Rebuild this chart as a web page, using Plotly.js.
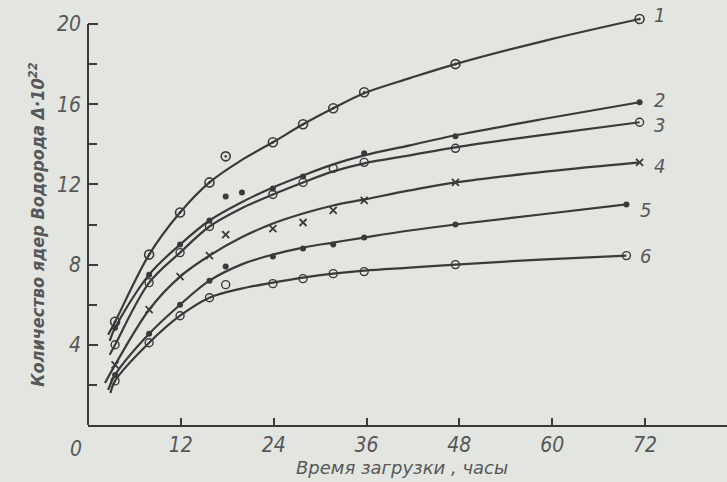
<!DOCTYPE html>
<html>
<head>
<meta charset="utf-8">
<script src="https://cdn.plot.ly/plotly-3.0.1.min.js"></script>
<style>html,body{margin:0;padding:0;background:#e3e5e1;}#chart{width:727px;height:482px;}</style>
</head>
<body>
<div id="chart"></div>
<script>
// ---- Data ----
const curveNames = ['1', '2', '3', '4', '5', '6'];

// measurement times, hours
const hours   = [3.5, 7.9, 11.9, 15.7, 17.8, 23.9, 27.8, 31.7, 35.7, 47.5, 71.3];
const hours56 = [3.5, 7.9, 11.9, 15.7, 17.8, 23.9, 27.8, 31.7, 35.7, 47.5, 69.6];

// measured points (hydrogen nuclei, x10^22)
const pts1 = [5.15, 8.5, 10.6, 12.1, 13.4, 14.1, 15.0, 15.8, 16.6, 18.0, 20.25];
const pts2 = [4.85, 7.5, 9.0, 10.2, 11.4, 11.8, 12.4, null, 13.55, 14.4, 16.1];
const pts3 = [4.0, 7.1, 8.6, 9.9, null, 11.5, 12.1, 12.8, 13.1, 13.8, 15.1];
const pts4 = [3.0, 5.75, 7.4, 8.45, 9.5, 9.8, 10.1, 10.7, 11.2, 12.1, 13.1];
const pts5 = [2.5, 4.55, 6.0, 7.2, 7.9, 8.4, 8.8, 9.0, 9.35, 10.0, 11.0];
const pts6 = [2.2, 4.1, 5.45, 6.35, 7.0, 7.05, 7.3, 7.55, 7.65, 8.0, 8.45];
// extra point of curve 2
const extraHours2 = [19.9];
const extraPts2   = [11.6];

// fitted (smooth) curves
const fitHours1 = [2.6, 3.5, 7.9, 11.9, 15.7, 19.8, 23.9, 27.8, 31.7, 35.7, 41.6, 47.5, 59.4, 71.3];
const fit1      = [4.5, 5.15, 8.5, 10.6, 12.1, 13.2, 14.1, 15.0, 15.8, 16.55, 17.3, 18.0, 19.2, 20.25];
const fitHours2 = [2.8, 3.5, 7.9, 11.9, 15.7, 19.8, 23.9, 27.8, 31.7, 35.7, 41.6, 47.5, 59.4, 71.3];
const fit2      = [4.2, 4.85, 7.5, 9.0, 10.2, 11.1, 11.85, 12.45, 13.0, 13.45, 13.95, 14.45, 15.3, 16.1];
const fitHours3 = [2.8, 3.5, 7.9, 11.9, 15.7, 19.8, 23.9, 27.8, 31.7, 35.7, 41.6, 47.5, 59.4, 71.3];
const fit3      = [3.5, 4.0, 7.1, 8.6, 9.9, 10.8, 11.5, 12.1, 12.65, 13.05, 13.45, 13.85, 14.5, 15.1];
const fitHours4 = [2.2, 3.5, 7.9, 11.9, 15.7, 19.8, 23.9, 27.8, 31.7, 35.7, 41.6, 47.5, 59.4, 71.3];
const fit4      = [2.1, 3.0, 5.75, 7.4, 8.45, 9.35, 10.05, 10.55, 10.95, 11.25, 11.7, 12.1, 12.65, 13.1];
const fitHours5 = [2.6, 3.5, 7.9, 11.9, 15.7, 19.8, 23.9, 27.8, 31.7, 35.7, 41.6, 47.5, 58.5, 69.6];
const fit5      = [1.75, 2.5, 4.55, 6.0, 7.2, 8.0, 8.5, 8.85, 9.1, 9.35, 9.7, 10.0, 10.5, 11.0];
const fitHours6 = [2.9, 3.5, 7.9, 11.9, 15.7, 19.8, 23.9, 27.8, 31.7, 35.7, 41.6, 47.5, 58.5, 69.6];
const fit6      = [1.6, 2.2, 4.1, 5.45, 6.35, 6.8, 7.1, 7.35, 7.55, 7.7, 7.85, 8.0, 8.25, 8.45];

const xTickVals = [12, 24, 36, 48, 60, 72];
const xTickText = ['12', '24', '36', '48', '60', '72'];
const yTickVals = [4, 8, 12, 16, 20];
const yTickText = ['4', '8', '12', '16', '20'];
const yMinorVals = [2, 6, 10, 14, 18];

const xTitle = 'Время загрузки , часы';
const yTitle = 'Количество ядер Водорода Δ·10<sup>22</sup>';

// ---- Styling ----
const ink = '#3a3a3a';
const textInk = '#575757';
const tickFont = {family: 'Liberation Sans Narrow, DejaVu Sans Condensed, sans-serif', size: 21, color: textInk, style: 'italic'};

const fits = [[fitHours1, fit1], [fitHours2, fit2], [fitHours3, fit3], [fitHours4, fit4], [fitHours5, fit5], [fitHours6, fit6]];
const points = [[hours, pts1], [hours, pts2], [hours, pts3], [hours, pts4], [hours56, pts5], [hours56, pts6]];
const markerStyles = [
  {symbol: 'circle-open-dot', size: 9, color: ink, line: {width: 1.6, color: ink}},
  {symbol: 'circle', size: 6, color: ink},
  {symbol: 'circle-open', size: 8, color: ink, line: {width: 1.4, color: ink}},
  {symbol: 'x-thin', size: 7, color: ink, line: {width: 1.8, color: ink}},
  {symbol: 'circle', size: 6, color: ink},
  {symbol: 'circle-open', size: 8, color: ink, line: {width: 1.4, color: ink}}
];
const labelShifts = [4, 2, -3, -4, -6, 0];

const traces = [];
fits.forEach(([t, v]) => {
  traces.push({x: t, y: v, type: 'scatter', mode: 'lines', line: {color: ink, width: 2.2, shape: 'spline', smoothing: 1}, hoverinfo: 'skip'});
});
points.forEach(([t, v], i) => {
  traces.push({x: t, y: v, type: 'scatter', mode: 'markers', marker: markerStyles[i], cliponaxis: false});
});
traces.push({x: extraHours2, y: extraPts2, type: 'scatter', mode: 'markers', marker: markerStyles[1], cliponaxis: false});

const labelFont = {family: 'Liberation Sans Narrow, DejaVu Sans Condensed, sans-serif', size: 20, color: textInk, style: 'italic'};
const annotations = curveNames.map((name, i) => {
  const [t, v] = points[i];
  return {x: t[t.length - 1], y: v[v.length - 1], xref: 'x', yref: 'y', text: name, showarrow: false,
          xanchor: 'left', yanchor: 'middle', xshift: 12, yshift: labelShifts[i], font: labelFont};
});
annotations.push({x: 0, y: 0, xref: 'x', yref: 'y', text: '0', showarrow: false, xanchor: 'right', yanchor: 'top',
                  xshift: -4, yshift: -10, font: tickFont});
annotations.push({x: 0.491, y: -0.103, xref: 'paper', yref: 'paper', text: xTitle, showarrow: false,
                  xanchor: 'center', yanchor: 'middle',
                  font: {family: 'DejaVu Sans, sans-serif', size: 18, color: textInk, style: 'italic'}});
annotations.push({x: -0.081, y: 0.49, xref: 'paper', yref: 'paper', text: yTitle, showarrow: false, textangle: -90,
                  xanchor: 'center', yanchor: 'middle',
                  font: {family: 'DejaVu Sans Condensed, DejaVu Sans, sans-serif', size: 18, color: textInk, style: 'italic', weight: 'bold'}});

const layout = {
  width: 727, height: 482,
  margin: {l: 88, r: 0, t: 16, b: 57},
  paper_bgcolor: '#e3e5e1', plot_bgcolor: '#e3e5e1',
  showlegend: false,
  xaxis: {range: [0, 82.6], tickvals: xTickVals, ticktext: xTickText, ticks: 'inside', ticklen: 7, tickwidth: 2,
          tickcolor: ink, showline: true, linecolor: ink, linewidth: 2, showgrid: false, zeroline: false,
          tickfont: tickFont, fixedrange: true},
  yaxis: {range: [0, 20.4], tickvals: yTickVals, ticktext: yTickText, ticks: 'inside', ticklen: 10, tickwidth: 2,
          tickcolor: ink, showline: false, showgrid: false, zeroline: false, tickfont: tickFont,
          ticklabelstandoff: 6,
          minor: {tickvals: yMinorVals, ticks: 'inside', ticklen: 9, tickwidth: 2, tickcolor: ink, showgrid: false}},
  shapes: [{type: 'line', xref: 'paper', yref: 'y', x0: 0, x1: 0, y0: 0, y1: 20, line: {color: ink, width: 2}}],
  annotations: annotations
};

Plotly.newPlot('chart', traces, layout, {staticPlot: true, displayModeBar: false});
</script>
</body>
</html>
